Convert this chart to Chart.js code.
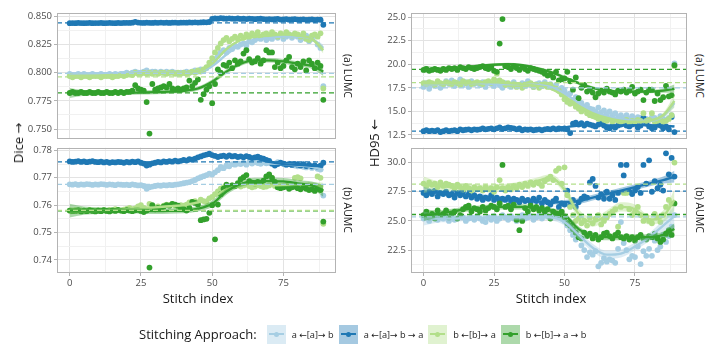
<!DOCTYPE html>
<html lang="en">
<head>
<meta charset="UTF-8">
<title>Stitching approaches: Dice and HD95 per stitch index</title>
<script src="https://cdn.jsdelivr.net/npm/chart.js"></script>
<style>
    html, body { margin: 0; background: #fff; }
    body {
        width: 724px; height: 362px;
        position: relative; overflow: hidden;
        font-family: 'Open Sans', 'DejaVu Sans', sans-serif;
        color: #1a1a1a;
    }
    canvas { position: absolute; }

    .strip {
        position: absolute; writing-mode: vertical-rl;
        font-size: 10.5px; white-space: nowrap;
        transform: translate(-50%, -50%);
    }
    .ytitle {
        position: absolute; font-size: 13px; white-space: nowrap;
        transform: translate(-50%, -50%) rotate(-90deg);
    }
    .xtitle {
        position: absolute; font-size: 13px; white-space: nowrap;
        transform: translate(-50%, -50%);
    }

    #legend {
        position: absolute; left: 139px; top: 324px; height: 20px;
        display: flex; align-items: center; font-size: 9.2px; white-space: nowrap;
    }
    #legend .ttl { font-size: 13px; margin-right: 10px; }
    .key { position: relative; width: 19px; height: 19px; margin-right: 6px; }
    .key i { position: absolute; left: 2px; right: 2px; top: 8.5px; height: 2px; }
    .key b { position: absolute; left: 7px; top: 7px; width: 5px; height: 5px; border-radius: 50%; }
    .lab { margin-right: 5px; }
</style>
</head>
<body>
    <canvas id="diceLumc" width="340" height="147" style="left:0;top:0"></canvas>
    <canvas id="diceAumc" width="340" height="150" style="left:0;top:140px"></canvas>
    <canvas id="hdLumc" width="337" height="147" style="left:354px;top:0"></canvas>
    <canvas id="hdAumc" width="337" height="150" style="left:354px;top:140px"></canvas>

    <div class="strip" style="left:348px;top:76px">(a) LUMC</div>
    <div class="strip" style="left:348px;top:210px">(b) AUMC</div>
    <div class="strip" style="left:700px;top:76px">(a) LUMC</div>
    <div class="strip" style="left:700px;top:210px">(b) AUMC</div>

    <div class="ytitle" style="left:18px;top:143px">Dice →</div>
    <div class="ytitle" style="left:374px;top:143px">HD95 ←</div>
    <div class="xtitle" style="left:198px;top:298px">Stitch index</div>
    <div class="xtitle" style="left:551px;top:298px">Stitch index</div>

    <div id="legend"><span class="ttl">Stitching Approach:</span></div>

<script>
// ---- data ----
const stitch = Array.from({ length: 90 }, (_, i) => i);
const knots = [0, 5, 10, 15, 20, 25, 30, 35, 40, 45, 50, 55, 60, 65, 70, 75, 80, 85, 89];
const stitchTicks = [0, 25, 50, 75];
const approaches = ['a ←[a]→ b', 'a ←[a]→ b → a', 'b ←[b]→ a', 'b ←[b]→ a → b'];

// Dice, LUMC
const diceLumcA = [
    0.799,0.798,0.798,0.799,0.798,0.799,0.798,0.798,0.799,0.798,
    0.798,0.799,0.798,0.798,0.799,0.798,0.799,0.798,0.799,0.799,
    0.800,0.799,0.800,0.801,0.800,0.800,0.801,0.802,0.800,0.801,
    0.801,0.800,0.801,0.800,0.801,0.800,0.801,0.800,0.799,0.800,
    0.800,0.801,0.800,0.801,0.802,0.801,0.803,0.802,0.804,0.806,
    0.809,0.812,0.815,0.818,0.820,0.818,0.822,0.821,0.824,0.823,
    0.825,0.826,0.824,0.828,0.827,0.829,0.831,0.830,0.832,0.829,
    0.831,0.830,0.833,0.831,0.834,0.830,0.832,0.834,0.831,0.833,
    0.832,0.829,0.831,0.833,0.828,0.830,0.833,0.825,0.822,0.788];
const diceLumcB = [
    0.8440,0.8441,0.8440,0.8442,0.8441,0.8440,0.8441,0.8442,0.8440,0.8441,
    0.8441,0.8442,0.8440,0.8441,0.8442,0.8441,0.8440,0.8442,0.8441,0.8442,
    0.8443,0.8442,0.8444,0.8452,0.8445,0.8443,0.8442,0.8444,0.8443,0.8442,
    0.8444,0.8443,0.8445,0.8443,0.8444,0.8442,0.8444,0.8445,0.8443,0.8444,
    0.8445,0.8444,0.8446,0.8445,0.8447,0.8445,0.8446,0.8448,0.8447,0.8450,
    0.8478,0.8482,0.8480,0.8485,0.8481,0.8479,0.8483,0.8480,0.8478,0.8481,
    0.8477,0.8479,0.8476,0.8480,0.8478,0.8475,0.8477,0.8479,0.8476,0.8474,
    0.8476,0.8473,0.8475,0.8477,0.8472,0.8474,0.8476,0.8471,0.8473,0.8475,
    0.8472,0.8470,0.8474,0.8469,0.8471,0.8473,0.8468,0.8472,0.8470,0.8425];
const diceLumcC = [
    0.797,0.796,0.797,0.797,0.796,0.797,0.797,0.796,0.797,0.797,
    0.797,0.796,0.797,0.797,0.797,0.796,0.797,0.797,0.798,0.797,
    0.798,0.799,0.798,0.800,0.799,0.799,0.800,0.799,0.800,0.799,
    0.800,0.799,0.800,0.800,0.799,0.800,0.800,0.799,0.800,0.799,
    0.800,0.799,0.800,0.801,0.800,0.802,0.801,0.803,0.805,0.809,
    0.813,0.818,0.822,0.826,0.829,0.831,0.828,0.830,0.832,0.830,
    0.833,0.831,0.834,0.832,0.835,0.833,0.836,0.832,0.834,0.835,
    0.833,0.836,0.834,0.832,0.835,0.833,0.836,0.834,0.833,0.835,
    0.834,0.832,0.835,0.830,0.829,0.833,0.834,0.832,0.835,0.786];
const diceLumcD = [
    0.782,0.783,0.782,0.782,0.783,0.782,0.782,0.783,0.782,0.782,
    0.783,0.782,0.782,0.783,0.782,0.782,0.783,0.782,0.783,0.782,
    0.783,0.783,0.784,0.789,0.786,0.785,0.784,0.774,0.746,0.790,
    0.785,0.786,0.787,0.788,0.787,0.790,0.786,0.785,0.786,0.785,
    0.786,0.787,0.793,0.788,0.791,0.794,0.776,0.781,0.785,0.788,
    0.773,0.790,0.803,0.800,0.807,0.806,0.809,0.804,0.811,0.808,
    0.810,0.817,0.820,0.812,0.809,0.810,0.813,0.808,0.811,0.820,
    0.818,0.818,0.805,0.809,0.804,0.806,0.811,0.814,0.805,0.803,
    0.808,0.805,0.810,0.802,0.811,0.808,0.804,0.809,0.806,0.776];
const diceLumcFitA = [0.798,0.7985,0.799,0.7995,0.800,0.8005,0.8005,0.8005,0.800,0.801,0.806,0.816,0.825,0.829,0.831,0.832,0.832,0.830,0.822];
const diceLumcFitB = [0.8440,0.8441,0.8442,0.8443,0.8444,0.8445,0.8445,0.8445,0.8446,0.8450,0.8465,0.8478,0.8478,0.8476,0.8474,0.8472,0.8470,0.8468,0.8460];
const diceLumcFitC = [0.797,0.7972,0.7975,0.798,0.7988,0.7995,0.800,0.800,0.800,0.801,0.808,0.821,0.829,0.832,0.833,0.834,0.833,0.830,0.820];
const diceLumcFitD = [0.782,0.782,0.782,0.782,0.7822,0.7825,0.7828,0.7832,0.784,0.786,0.792,0.801,0.808,0.811,0.811,0.810,0.808,0.806,0.801];
const diceLumcSeA = [0.0025,0.0015,0.0012,0.001,0.001,0.001,0.001,0.001,0.001,0.001,0.0012,0.0012,0.0012,0.0012,0.0012,0.0012,0.0012,0.0015,0.0028];
const diceLumcSeB = [0.0006,0.0004,0.0003,0.0003,0.0003,0.0003,0.0003,0.0003,0.0003,0.0003,0.0003,0.0003,0.0003,0.0003,0.0003,0.0003,0.0003,0.0004,0.0007];
const diceLumcSeC = [0.0025,0.0015,0.0012,0.001,0.001,0.001,0.001,0.001,0.001,0.001,0.0012,0.0012,0.0012,0.0012,0.0012,0.0012,0.0013,0.0016,0.003];
const diceLumcSeD = [0.0045,0.0025,0.002,0.0018,0.0018,0.0018,0.0018,0.0018,0.0018,0.0018,0.002,0.002,0.002,0.002,0.002,0.002,0.0022,0.0025,0.004];
const diceLumcRef = [0.7995, 0.8443, 0.7963, 0.7822];
const diceLumcTicks = [0.750, 0.775, 0.800, 0.825, 0.850];

// Dice, AUMC
const diceAumcA = [
    0.7676,0.7675,0.7677,0.7674,0.7676,0.7675,0.7677,0.7676,0.7674,0.7676,
    0.7675,0.7677,0.7676,0.7674,0.7676,0.7675,0.7673,0.7676,0.7675,0.7674,
    0.7675,0.7673,0.7676,0.7674,0.7672,0.7673,0.7670,0.7660,0.7665,0.7668,
    0.7670,0.7672,0.7671,0.7673,0.7672,0.7674,0.7673,0.7675,0.7676,0.7678,
    0.7680,0.7682,0.7684,0.7688,0.7692,0.7698,0.7702,0.7706,0.7710,0.7715,
    0.7712,0.7720,0.7728,0.7740,0.7735,0.7745,0.7742,0.7750,0.7748,0.7752,
    0.7750,0.7755,0.7748,0.7756,0.7752,0.7758,0.7754,0.7751,0.7756,0.7753,
    0.7755,0.7750,0.7752,0.7757,0.7754,0.7750,0.7748,0.7752,0.7747,0.7745,
    0.7742,0.7745,0.7740,0.7738,0.7742,0.7736,0.7740,0.7733,0.7730,0.7635];
const diceAumcB = [
    0.7760,0.7758,0.7759,0.7761,0.7758,0.7760,0.7757,0.7759,0.7761,0.7758,
    0.7757,0.7759,0.7756,0.7758,0.7755,0.7757,0.7756,0.7758,0.7757,0.7755,
    0.7758,0.7756,0.7759,0.7757,0.7760,0.7755,0.7752,0.7745,0.7748,0.7753,
    0.7755,0.7758,0.7756,0.7760,0.7758,0.7761,0.7759,0.7763,0.7760,0.7762,
    0.7765,0.7763,0.7768,0.7766,0.7770,0.7775,0.7778,0.7782,0.7785,0.7788,
    0.7783,0.7780,0.7776,0.7779,0.7781,0.7777,0.7782,0.7778,0.7780,0.7776,
    0.7778,0.7775,0.7779,0.7776,0.7772,0.7775,0.7777,0.7773,0.7770,0.7765,
    0.7762,0.7752,0.7745,0.7750,0.7755,0.7752,0.7748,0.7750,0.7747,0.7751,
    0.7748,0.7745,0.7750,0.7743,0.7747,0.7742,0.7745,0.7740,0.7744,0.7755];
const diceAumcC = [
    0.7580,0.7578,0.7582,0.7579,0.7581,0.7580,0.7578,0.7583,0.7580,0.7579,
    0.7581,0.7580,0.7582,0.7579,0.7583,0.7581,0.7585,0.7582,0.7580,0.7584,
    0.7586,0.7590,0.7585,0.7588,0.7595,0.7600,0.7590,0.7585,0.7605,0.7590,
    0.7592,0.7595,0.7590,0.7598,0.7602,0.7600,0.7605,0.7598,0.7595,0.7600,
    0.7598,0.7602,0.7610,0.7612,0.7615,0.7608,0.7620,0.7615,0.7612,0.7625,
    0.7630,0.7640,0.7650,0.7660,0.7665,0.7670,0.7668,0.7672,0.7670,0.7675,
    0.7668,0.7672,0.7676,0.7670,0.7665,0.7668,0.7673,0.7670,0.7666,0.7668,
    0.7672,0.7700,0.7670,0.7665,0.7668,0.7670,0.7672,0.7666,0.7668,0.7700,
    0.7702,0.7698,0.7670,0.7668,0.7672,0.7665,0.7670,0.7705,0.7700,0.7532];
const diceAumcD = [
    0.7580,0.7578,0.7579,0.7582,0.7577,0.7580,0.7578,0.7581,0.7579,0.7577,
    0.7580,0.7578,0.7582,0.7579,0.7577,0.7581,0.7579,0.7583,0.7580,0.7578,
    0.7582,0.7580,0.7578,0.7581,0.7583,0.7579,0.7575,0.7580,0.7372,0.7600,
    0.7585,0.7590,0.7588,0.7595,0.7600,0.7598,0.7605,0.7602,0.7598,0.7590,
    0.7585,0.7580,0.7590,0.7612,0.7608,0.7602,0.7545,0.7548,0.7550,0.7572,
    0.7600,0.7475,0.7602,0.7640,0.7660,0.7675,0.7668,0.7672,0.7670,0.7680,
    0.7695,0.7702,0.7710,0.7688,0.7682,0.7678,0.7685,0.7680,0.7690,0.7705,
    0.7712,0.7700,0.7685,0.7665,0.7662,0.7665,0.7668,0.7660,0.7665,0.7668,
    0.7662,0.7658,0.7665,0.7660,0.7655,0.7658,0.7652,0.7660,0.7655,0.7540];
const diceAumcFitA = [0.7676,0.7676,0.7675,0.7675,0.7674,0.7672,0.7670,0.7672,0.7678,0.7692,0.7715,0.7738,0.7750,0.7753,0.7752,0.7750,0.7745,0.7740,0.7728];
const diceAumcFitB = [0.7759,0.7758,0.7757,0.7757,0.7757,0.7755,0.7756,0.7759,0.7764,0.7775,0.7781,0.7779,0.7776,0.7771,0.7758,0.7750,0.7747,0.7744,0.7742];
const diceAumcFitC = [0.7580,0.7580,0.7580,0.7582,0.7585,0.7588,0.7592,0.7596,0.7600,0.7610,0.7628,0.7657,0.7670,0.7672,0.7673,0.7674,0.7676,0.7677,0.7668];
const diceAumcFitD = [0.7580,0.7580,0.7580,0.7580,0.7580,0.7579,0.7578,0.7579,0.7580,0.7587,0.7605,0.7650,0.7678,0.7688,0.7688,0.7687,0.7680,0.7672,0.7653];
const diceAumcSeA = [0.0005,0.0003,0.0002,0.0002,0.0002,0.0002,0.0002,0.0002,0.0002,0.0002,0.0003,0.0003,0.0003,0.0003,0.0003,0.0003,0.0003,0.0004,0.0008];
const diceAumcSeB = [0.0004,0.0003,0.0002,0.0002,0.0002,0.0002,0.0002,0.0002,0.0002,0.0002,0.0002,0.0002,0.0002,0.0002,0.0002,0.0002,0.0002,0.0003,0.0005];
const diceAumcSeC = [0.0014,0.0008,0.0006,0.0005,0.0005,0.0005,0.0005,0.0005,0.0005,0.0005,0.0006,0.0006,0.0006,0.0006,0.0006,0.0006,0.0006,0.0008,0.0014];
const diceAumcSeD = [0.0025,0.0015,0.0012,0.001,0.001,0.001,0.001,0.001,0.001,0.001,0.0012,0.0012,0.0012,0.0012,0.0012,0.0012,0.0012,0.0014,0.0022];
const diceAumcRef = [0.7676, 0.7758, 0.7581, 0.7579];
const diceAumcTicks = [0.74, 0.75, 0.76, 0.77, 0.78];

// HD95, LUMC
const hdLumcA = [
    17.6,18.0,17.4,17.9,17.7,18.1,17.5,17.8,18.2,17.9,
    18.3,17.7,18.0,18.4,17.8,18.1,17.6,18.2,17.9,18.0,
    17.8,18.1,17.6,18.0,17.9,17.7,18.2,17.8,17.5,18.0,
    17.9,17.6,18.1,17.8,17.7,18.0,17.9,18.2,17.8,17.6,
    17.9,18.0,17.7,18.1,17.8,17.9,17.6,17.8,17.3,17.5,
    17.2,16.8,16.9,16.2,16.5,15.8,15.9,15.5,15.7,15.3,
    15.2,15.0,15.4,14.9,15.1,14.7,15.0,14.6,14.8,14.4,
    14.6,14.3,14.6,14.2,14.5,14.1,14.4,14.3,14.0,14.2,
    14.1,14.4,14.3,14.0,14.5,14.2,14.1,14.3,14.6,20.1];
const hdLumcB = [
    12.9,13.0,12.9,12.95,12.9,13.0,12.8,12.9,13.0,12.9,
    12.95,13.0,12.9,13.1,13.0,13.05,13.1,13.0,13.1,13.05,
    13.1,13.2,13.1,13.15,13.2,13.1,13.2,13.3,13.15,13.2,
    13.3,13.25,13.2,13.1,13.2,13.0,13.1,13.05,13.1,13.0,
    13.05,13.1,13.0,13.1,13.15,13.1,13.2,13.1,13.2,13.15,
    13.2,13.1,12.7,13.7,13.8,13.6,13.75,13.5,13.7,13.6,
    13.5,13.4,13.6,13.8,13.5,13.3,13.2,13.4,13.3,13.5,
    13.6,13.8,13.5,13.4,13.6,13.7,13.3,13.5,14.3,13.7,
    13.4,13.2,13.3,13.6,13.5,13.2,13.4,13.1,14.4,12.8];
const hdLumcC = [
    18.0,17.9,18.1,18.0,17.8,18.2,18.0,17.9,18.1,18.0,
    17.9,18.1,18.0,17.8,18.2,18.0,18.1,17.9,18.0,18.1,
    18.0,17.9,18.1,18.2,18.0,18.4,19.0,18.3,18.1,17.8,
    18.0,17.7,17.9,17.6,17.8,17.5,17.7,17.9,18.0,17.6,
    17.8,17.5,17.7,17.9,17.6,17.8,17.5,17.4,17.2,16.8,
    16.3,16.0,15.8,15.9,15.5,15.3,15.0,15.2,14.8,14.6,
    14.5,14.4,14.2,14.3,14.1,14.0,14.2,13.9,14.1,14.0,
    13.9,14.0,14.1,13.8,14.0,13.9,14.1,14.0,14.8,14.0,
    14.1,14.8,13.9,14.0,14.1,13.9,14.0,14.2,14.6,19.8];
const hdLumcD = [
    19.4,19.5,19.3,19.4,19.5,19.4,19.3,19.5,19.4,19.6,
    19.5,19.6,19.4,19.7,19.6,19.5,19.7,19.6,19.5,19.6,
    19.7,19.8,19.6,19.5,19.7,19.3,19.2,22.2,24.8,19.8,
    19.7,19.5,19.8,19.6,19.4,19.7,19.5,19.3,19.6,19.5,
    19.4,19.3,19.2,19.0,18.8,18.9,18.6,19.2,18.3,18.4,
    18.5,19.2,18.2,17.3,18.6,16.4,17.5,17.8,17.1,17.3,
    17.0,16.5,16.9,17.2,17.0,17.4,17.1,17.0,16.8,17.2,
    17.1,17.3,17.0,17.2,17.6,16.9,17.1,17.3,16.2,17.0,
    17.3,17.3,16.1,16.9,16.2,16.5,17.7,16.6,16.7,19.9];
const hdLumcFitA = [17.8,17.9,18.0,18.0,18.0,17.9,17.9,17.9,17.8,17.6,16.9,15.9,15.0,14.5,14.2,14.0,14.0,14.5,15.9];
const hdLumcFitB = [12.9,12.95,13.0,13.05,13.1,13.15,13.2,13.15,13.1,13.1,13.3,13.5,13.55,13.5,13.5,13.55,13.55,13.5,13.4];
const hdLumcFitC = [18.0,18.0,18.0,18.0,18.1,18.1,18.0,17.9,17.7,17.4,16.6,15.6,14.8,14.3,14.0,13.9,14.0,14.6,16.1];
const hdLumcFitD = [19.45,19.5,19.6,19.7,19.85,19.95,20.0,19.9,19.6,19.2,18.6,18.0,17.5,17.2,17.1,17.1,17.1,17.2,17.4];
const hdLumcSeA = [0.35,0.2,0.15,0.13,0.13,0.13,0.13,0.13,0.13,0.13,0.15,0.15,0.15,0.15,0.15,0.15,0.15,0.2,0.45];
const hdLumcSeB = [0.15,0.08,0.06,0.05,0.05,0.05,0.05,0.05,0.05,0.05,0.06,0.06,0.06,0.06,0.06,0.06,0.06,0.08,0.15];
const hdLumcSeC = [0.35,0.2,0.15,0.13,0.13,0.13,0.13,0.13,0.13,0.13,0.15,0.15,0.15,0.15,0.15,0.15,0.15,0.25,0.7];
const hdLumcSeD = [0.4,0.22,0.18,0.16,0.16,0.16,0.16,0.16,0.16,0.16,0.18,0.18,0.18,0.18,0.18,0.18,0.18,0.22,0.45];
const hdLumcRef = [17.5, 12.9, 18.05, 19.45];
const hdLumcTicks = [12.5, 15, 17.5, 20, 22.5, 25];

// HD95, AUMC
const hdAumcA = [
    25.2,25.4,25.0,25.3,25.5,25.1,25.3,25.2,25.4,25.0,
    25.3,25.1,25.2,25.4,25.3,25.0,25.2,25.3,25.1,25.4,
    25.2,25.0,24.9,25.3,25.1,25.4,25.0,25.2,25.5,25.3,
    25.1,25.4,25.2,25.0,25.3,25.5,25.2,25.3,25.4,25.1,
    25.3,25.5,25.2,25.6,25.4,25.3,25.7,25.4,25.6,25.2,
    25.0,24.6,24.2,23.8,23.4,23.6,22.9,22.5,21.9,22.3,
    22.1,22.4,21.1,21.4,21.8,21.5,21.7,21.6,21.4,22.6,
    24.9,23.1,22.5,21.7,22.0,21.9,22.8,21.3,22.4,22.0,
    22.6,22.0,23.3,22.5,22.8,23.8,23.2,23.7,24.5,25.5];
const hdAumcB = [
    27.4,27.2,27.5,27.3,27.6,27.1,27.4,27.3,27.5,27.2,
    27.3,27.0,27.4,27.2,27.5,27.1,27.3,27.0,27.2,26.9,
    27.1,26.8,27.0,26.9,27.2,26.8,27.0,26.7,26.9,26.8,
    27.0,26.7,26.9,26.8,26.6,26.9,26.7,26.8,26.6,26.9,
    26.7,27.0,26.5,26.8,26.6,26.4,26.7,26.9,26.2,26.5,
    26.4,27.6,26.3,26.8,26.2,26.6,26.9,27.1,27.0,28.3,
    28.6,28.0,27.0,27.3,26.9,27.5,26.9,27.2,26.8,27.4,
    29.8,28.9,29.8,27.5,27.3,27.6,27.9,27.4,29.8,28.2,
    30.2,27.5,28.4,27.8,28.1,27.6,30.8,29.0,30.4,28.8];
const hdAumcC = [
    28.2,28.0,28.3,28.1,28.2,27.9,28.3,28.0,28.2,28.1,
    28.0,27.8,28.1,27.9,27.7,28.0,27.8,27.6,27.9,27.7,
    27.8,27.6,27.9,27.7,27.8,27.5,27.9,28.5,27.8,27.6,
    27.9,27.7,28.0,27.8,28.1,27.9,28.2,28.0,28.3,28.1,
    28.3,28.2,28.0,28.4,28.6,28.8,28.5,29.3,29.5,28.2,
    29.6,27.2,26.2,25.5,25.0,25.2,24.8,25.0,24.6,25.3,
    24.8,25.2,25.5,24.7,25.0,25.3,25.6,25.8,26.0,24.5,
    26.2,27.4,27.4,26.0,25.5,25.8,26.2,25.5,25.0,25.4,
    25.0,24.8,25.6,25.3,24.9,25.5,26.2,26.8,26.5,30.0];
const hdAumcD = [
    25.5,25.8,25.3,25.6,25.2,25.9,25.4,25.6,25.9,25.3,
    25.6,25.8,25.2,25.5,26.0,26.2,26.3,25.8,26.1,26.0,
    25.8,26.2,25.9,26.1,26.3,26.2,26.0,26.5,29.8,26.2,
    26.3,26.0,26.4,25.1,24.2,25.0,26.1,25.8,26.3,26.0,
    26.2,25.9,26.1,25.8,26.0,25.2,25.8,25.6,25.5,25.8,
    25.3,24.8,24.6,24.3,24.0,23.6,23.5,24.0,23.7,23.9,
    23.5,23.8,23.4,23.6,23.9,24.0,23.7,23.5,23.8,24.0,
    23.6,23.5,23.7,23.4,23.6,23.3,23.6,23.8,23.5,23.4,
    23.7,23.6,23.9,23.5,23.2,23.4,23.9,24.2,23.8,26.5];
const hdAumcFitA = [25.2,25.2,25.2,25.25,25.25,25.3,25.3,25.3,25.35,25.3,24.9,23.8,22.7,22.1,22.2,22.8,23.6,24.6,25.4];
const hdAumcFitB = [27.5,27.4,27.3,27.2,27.1,27.0,26.9,26.8,26.7,26.6,26.6,26.7,27.0,27.3,27.6,27.9,28.2,28.5,28.8];
const hdAumcFitC = [28.1,28.0,27.9,27.8,27.8,27.8,27.9,28.1,28.4,28.7,27.7,25.6,24.9,25.5,26.2,26.0,25.1,25.4,26.8];
const hdAumcFitD = [25.5,25.6,25.8,26.0,26.1,26.2,26.2,26.2,26.1,25.9,25.5,24.3,23.7,23.6,23.6,23.6,23.6,23.8,24.3];
const hdAumcSeA = [0.6,0.35,0.3,0.25,0.25,0.25,0.25,0.25,0.25,0.25,0.3,0.35,0.35,0.35,0.35,0.35,0.35,0.5,0.9];
const hdAumcSeB = [0.4,0.25,0.2,0.18,0.18,0.18,0.18,0.18,0.18,0.18,0.2,0.25,0.25,0.25,0.25,0.25,0.25,0.3,0.5];
const hdAumcSeC = [0.7,0.4,0.35,0.3,0.3,0.3,0.3,0.3,0.3,0.3,0.35,0.4,0.4,0.4,0.4,0.4,0.4,0.5,0.9];
const hdAumcSeD = [0.5,0.3,0.25,0.22,0.22,0.22,0.22,0.22,0.22,0.22,0.25,0.25,0.25,0.25,0.25,0.25,0.25,0.3,0.5];
const hdAumcRef = [25.35, 27.55, 28.15, 25.55];
const hdAumcTicks = [22.5, 25, 27.5, 30];

// ---- styling ----
const colors = ['#a6cee3', '#1f78b4', '#b2df8a', '#33a02c'];
const bandFills = ['rgba(166,206,227,0.4)', 'rgba(31,120,180,0.4)', 'rgba(178,223,138,0.4)', 'rgba(51,160,44,0.4)'];
const X_MIN = -4.45, X_MAX = 93.45;

Chart.defaults.font.family = "'Open Sans', 'DejaVu Sans', sans-serif";
Chart.defaults.animation = false;

// major ticks plus the halfway minor breaks that fall inside the range
function tickList(major, lo, hi) {
    const step = major[1] - major[0];
    const out = [];
    if (major[0] - step / 2 >= lo) out.push({ value: major[0] - step / 2, major: false });
    major.forEach((v, i) => {
        out.push({ value: v, major: true });
        const mid = v + step / 2;
        if (i < major.length - 1 || mid <= hi) out.push({ value: mid, major: false });
    });
    return out;
}

const gridColor = c => (c.tick && c.tick.major) ? '#e3e3e3' : '#f1f1f1';
const tickColor = c => (c.tick && c.tick.major) ? '#b3b3b3' : 'rgba(0,0,0,0)';

const panelBorder = {
    id: 'panelBorder',
    afterDatasetsDraw(chart) {
        const { ctx, chartArea: a } = chart;
        ctx.save();
        ctx.strokeStyle = '#b3b3b3';
        ctx.lineWidth = 1;
        ctx.strokeRect(Math.round(a.left) + 0.5, Math.round(a.top) + 0.5,
            Math.round(a.right - a.left) - 1, Math.round(a.bottom - a.top) - 1);
        ctx.restore();
    }
};

function drawPanel(id, series, fits, ses, refs, yMin, yMax, yTicks, dec, showX) {
    const datasets = [];

    // dashed reference levels, on top of everything
    refs.forEach((v, i) => datasets.push({
        data: [{ x: X_MIN, y: v }, { x: X_MAX, y: v }],
        borderColor: colors[i], borderWidth: 1.3, borderDash: [5, 3],
        pointRadius: 0, fill: false, order: 1
    }));

    // smoothed fits with their bands
    fits.forEach((f, i) => {
        const se = ses[i];
        const common = { pointRadius: 0, cubicInterpolationMode: 'monotone', order: 50 - i * 3 };
        datasets.push(Object.assign({
            data: knots.map((k, j) => ({ x: k, y: f[j] - se[j] })),
            borderWidth: 0, borderColor: 'rgba(0,0,0,0)', fill: false
        }, common));
        datasets.push(Object.assign({
            data: knots.map((k, j) => ({ x: k, y: f[j] + se[j] })),
            borderWidth: 0, borderColor: 'rgba(0,0,0,0)', fill: '-1', backgroundColor: bandFills[i]
        }, common));
        datasets.push({
            data: knots.map((k, j) => ({ x: k, y: f[j] })),
            borderColor: colors[i], borderWidth: 2.3, pointRadius: 0, fill: false,
            cubicInterpolationMode: 'monotone', order: 49 - i * 3
        });
    });

    // raw points
    series.forEach((s, i) => datasets.push({
        data: stitch.map((x, j) => ({ x, y: s[j] })),
        showLine: false, pointRadius: 2.9, pointBorderWidth: 0,
        pointBackgroundColor: colors[i], order: 100 - i
    }));

    new Chart(document.getElementById(id), {
        type: 'line',
        data: { datasets },
        plugins: [panelBorder],
        options: {
            responsive: false,
            devicePixelRatio: 1,
            events: [],
            layout: { padding: { top: showX ? 7 : 13, right: id.startsWith('dice') ? 1.5 : 0.5, left: 0, bottom: 0 } },
            plugins: { legend: { display: false }, tooltip: { enabled: false } },
            scales: {
                x: {
                    type: 'linear', min: X_MIN, max: X_MAX, bounds: 'data',
                    afterBuildTicks: s => { s.ticks = tickList(stitchTicks, X_MIN, X_MAX); },
                    afterFit: s => { s.height = showX ? 17 : 8; },
                    ticks: {
                        display: showX, autoSkip: false, maxRotation: 0, padding: 2,
                        color: '#4d4d4d', font: { size: 9.5 },
                        callback: (v, i, t) => t[i].major ? String(v) : ''
                    },
                    grid: { color: gridColor, drawTicks: showX, tickLength: 3, tickColor: tickColor },
                    border: { display: false }
                },
                y: {
                    type: 'linear', min: yMin, max: yMax, bounds: 'data',
                    afterBuildTicks: s => { s.ticks = tickList(yTicks, yMin, yMax); },
                    afterFit: s => { s.width = 57; },
                    ticks: {
                        autoSkip: false, padding: 2, color: '#4d4d4d', font: { size: 9.5 },
                        callback: (v, i, t) => t[i].major ? v.toFixed(dec) : ''
                    },
                    grid: { color: gridColor, tickLength: 3, tickColor: tickColor },
                    border: { display: false }
                }
            }
        }
    });
}

drawPanel('diceLumc', [diceLumcA, diceLumcB, diceLumcC, diceLumcD],
    [diceLumcFitA, diceLumcFitB, diceLumcFitC, diceLumcFitD],
    [diceLumcSeA, diceLumcSeB, diceLumcSeC, diceLumcSeD],
    diceLumcRef, 0.7412, 0.8530, diceLumcTicks, 3, false);
drawPanel('diceAumc', [diceAumcA, diceAumcB, diceAumcC, diceAumcD],
    [diceAumcFitA, diceAumcFitB, diceAumcFitC, diceAumcFitD],
    [diceAumcSeA, diceAumcSeB, diceAumcSeC, diceAumcSeD],
    diceAumcRef, 0.7352, 0.7810, diceAumcTicks, 2, true);
drawPanel('hdLumc', [hdLumcA, hdLumcB, hdLumcC, hdLumcD],
    [hdLumcFitA, hdLumcFitB, hdLumcFitC, hdLumcFitD],
    [hdLumcSeA, hdLumcSeB, hdLumcSeC, hdLumcSeD],
    hdLumcRef, 12.07, 25.44, hdLumcTicks, 1, false);
drawPanel('hdAumc', [hdAumcA, hdAumcB, hdAumcC, hdAumcD],
    [hdAumcFitA, hdAumcFitB, hdAumcFitC, hdAumcFitD],
    [hdAumcSeA, hdAumcSeB, hdAumcSeC, hdAumcSeD],
    hdAumcRef, 20.53, 31.28, hdAumcTicks, 1, true);

// legend keys
const legend = document.getElementById('legend');
approaches.forEach((name, i) => {
    const key = document.createElement('span');
    key.className = 'key';
    key.style.background = bandFills[i];
    key.innerHTML = '<i style="background:' + colors[i] + '"></i><b style="background:' + colors[i] + '"></b>';
    const lab = document.createElement('span');
    lab.className = 'lab';
    lab.textContent = name;
    legend.appendChild(key);
    legend.appendChild(lab);
});
</script>
</body>
</html>
